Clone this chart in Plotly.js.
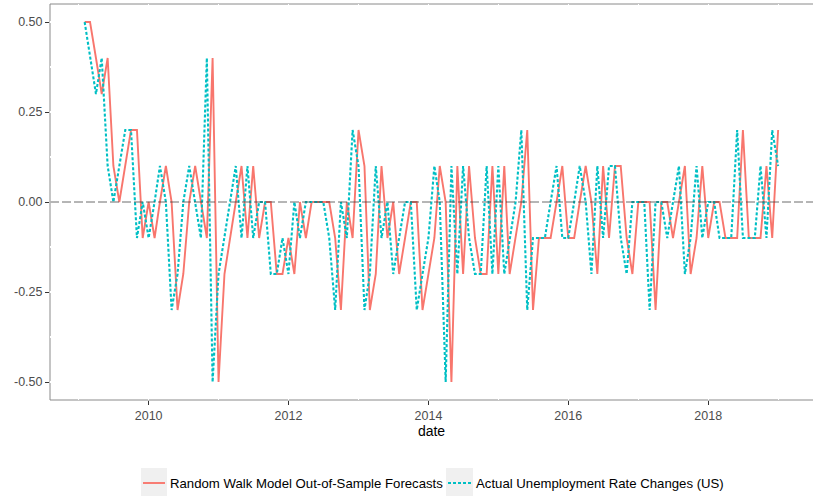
<!DOCTYPE html>
<html>
<head>
<meta charset="utf-8">
<script src="https://cdn.plot.ly/plotly-3.0.1.min.js"></script>
<style>
  html, body { margin: 0; padding: 0; background: #ffffff; }
  #chart { width: 813px; height: 496px; }
</style>
</head>
<body>
<div id="chart"></div>
<script>
// Monthly US unemployment rate changes (percentage points), Feb 2009 .. Jan 2019
const startMonth = "2009-02";

const actualChanges = [
   0.4,  0.3,  0.4,  0.1,  0.0,  0.1,  0.2,  0.2, -0.1,  0.0, -0.1,
   0.0,  0.1,  0.0, -0.3, -0.2,  0.0,  0.1,  0.0, -0.1,  0.4, -0.5,
  -0.2, -0.1,  0.0,  0.1, -0.1,  0.1, -0.1,  0.0,  0.0, -0.2, -0.2,
  -0.1, -0.2,  0.0, -0.1,  0.0,  0.0,  0.0,  0.0, -0.1, -0.3,  0.0,
  -0.1,  0.2,  0.1, -0.3, -0.2,  0.1, -0.1,  0.0, -0.2, -0.1,  0.0,
   0.0, -0.3, -0.2, -0.1,  0.1,  0.0, -0.5,  0.1, -0.2,  0.1, -0.1,
  -0.2, -0.2,  0.1, -0.2,  0.1, -0.2, -0.1,  0.0,  0.2, -0.3, -0.1,
  -0.1, -0.1,  0.0,  0.1, -0.1, -0.1,  0.0,  0.1,  0.0, -0.2,  0.1,
  -0.1,  0.1,  0.1, -0.1, -0.2,  0.0,  0.0,  0.0, -0.3,  0.0,  0.0,
  -0.1,  0.0,  0.1, -0.2, -0.1,  0.1, -0.1,  0.0,  0.0, -0.1, -0.1,
  -0.1,  0.2, -0.1, -0.1, -0.1,  0.1, -0.1,  0.2,  0.1
];
// first value of the actual series (Feb 2009)
const actualFirst = 0.5;

// Random walk forecast: each month's forecast equals last month's observed change
const randomWalkForecasts = [
   0.5,  0.5,  0.4,  0.3,  0.4,  0.1,  0.0,  0.1,  0.2,  0.2, -0.1,
   0.0, -0.1,  0.0,  0.1,  0.0, -0.3, -0.2,  0.0,  0.1,  0.0, -0.1,
   0.4, -0.5, -0.2, -0.1,  0.0,  0.1, -0.1,  0.1, -0.1,  0.0,  0.0,
  -0.2, -0.2, -0.1, -0.2,  0.0, -0.1,  0.0,  0.0,  0.0,  0.0, -0.1,
  -0.3,  0.0, -0.1,  0.2,  0.1, -0.3, -0.2,  0.1, -0.1,  0.0, -0.2,
  -0.1,  0.0,  0.0, -0.3, -0.2, -0.1,  0.1,  0.0, -0.5,  0.1, -0.2,
   0.1, -0.1, -0.2, -0.2,  0.1, -0.2,  0.1, -0.2, -0.1,  0.0,  0.2,
  -0.3, -0.1, -0.1, -0.1,  0.0,  0.1, -0.1, -0.1,  0.0,  0.1,  0.0,
  -0.2,  0.1, -0.1,  0.1,  0.1, -0.1, -0.2,  0.0,  0.0,  0.0, -0.3,
   0.0,  0.0, -0.1,  0.0,  0.1, -0.2, -0.1,  0.1, -0.1,  0.0,  0.0,
  -0.1, -0.1, -0.1,  0.2, -0.1, -0.1, -0.1,  0.1, -0.1,  0.2
];

const actualSeries = [actualFirst].concat(actualChanges);

const yTickVals = [-0.5, -0.25, 0, 0.25, 0.5];
const yTickText = ["-0.50", "-0.25", "0.00", "0.25", "0.50"];

const seriesNames = [
  "Random Walk Model Out-of-Sample Forecasts",
  "Actual Unemployment Rate Changes (US)"
];
const seriesColors = ["#F8766D", "#00BFC4"];

// month strings for the x axis
function monthSeq(start, n) {
  let [y, m] = start.split("-").map(Number);
  const out = [];
  for (let i = 0; i < n; i++) {
    out.push(y + "-" + String(m).padStart(2, "0") + "-01");
    m += 1;
    if (m > 12) { m = 1; y += 1; }
  }
  return out;
}
const dates = monthSeq(startMonth, randomWalkForecasts.length);

const W = 813, H = 496;
const M = { l: 50, r: 0, t: 4, b: 96 };
const px2x = px => (px - M.l) / (W - M.l - M.r);
const px2y = py => (H - M.b - py) / (H - M.t - M.b);

const redLine = { color: seriesColors[0], width: 1.9 };
const cyanLine = { color: seriesColors[1], width: 2.1, dash: "3px,2px" };

const traces = [
  {
    x: dates, y: randomWalkForecasts, type: "scatter", mode: "lines",
    name: seriesNames[0], line: redLine,
    showlegend: false, hoverinfo: "x+y"
  },
  {
    x: dates, y: actualSeries, type: "scatter", mode: "lines",
    name: seriesNames[1], line: cyanLine,
    showlegend: false, hoverinfo: "x+y"
  }
];

const font = "Liberation Sans, Arial, Helvetica, sans-serif";

// legend keys drawn by hand (grey key boxes with a line sample)
const keyBoxes = [
  { x0: 141, x1: 167, line: redLine, textX: 168, text: seriesNames[0] },
  { x0: 446, x1: 473, line: cyanLine, textX: 474, text: seriesNames[1] }
];
const legendTop = 468, legendBottom = 496, legendMid = 483;

const shapes = [
  // panel frame, drawn under the (white) grid lines
  { type: "rect", xref: "paper", yref: "paper", x0: 0, x1: 1.002, y0: 0, y1: 1,
    layer: "below", line: { color: "#8a8a8a", width: 1 }, fillcolor: "rgba(0,0,0,0)" },
  // zero reference line
  { type: "line", xref: "paper", yref: "y", x0: 0, x1: 1, y0: 0, y1: 0,
    layer: "above", line: { color: "rgba(60,60,60,0.75)", width: 1, dash: "9px,3px" } }
];
const annotations = [];
keyBoxes.forEach(k => {
  shapes.push({ type: "rect", xref: "paper", yref: "paper",
    x0: px2x(k.x0), x1: px2x(k.x1), y0: px2y(legendBottom), y1: px2y(legendTop),
    layer: "above", line: { width: 0 }, fillcolor: "#f0f0f0" });
  shapes.push({ type: "line", xref: "paper", yref: "paper",
    x0: px2x(k.x0 + 2), x1: px2x(k.x1 - 2), y0: px2y(legendMid), y1: px2y(legendMid),
    layer: "above", line: { color: k.line.color, width: k.line.width, dash: k.line.dash || "solid" } });
  annotations.push({ xref: "paper", yref: "paper", x: px2x(k.textX), y: px2y(legendMid),
    xanchor: "left", yanchor: "middle", showarrow: false, text: k.text,
    font: { family: font, size: 13.2, color: "#000000" } });
});

const layout = {
  width: W, height: H,
  margin: M,
  paper_bgcolor: "#ffffff", plot_bgcolor: "#ffffff",
  showlegend: false,
  font: { family: font, size: 12, color: "#4d4d4d" },
  xaxis: {
    type: "date",
    range: ["2008-08-04", "2019-07-02"],
    tick0: "2010-01-01", dtick: "M24", tickformat: "%Y",
    ticks: "outside", ticklen: 4, tickwidth: 1, tickcolor: "#333333",
    tickfont: { family: font, size: 12.5, color: "#4d4d4d" },
    showline: false, zeroline: false,
    showgrid: true, gridcolor: "#ffffff", gridwidth: 1.2,
    minor: { tick0: "2009-01-01", dtick: "M24", showgrid: true, gridcolor: "#ffffff", gridwidth: 1.2 },
    title: { text: "date", font: { family: font, size: 14, color: "#000000" }, standoff: 4 },
    fixedrange: true
  },
  yaxis: {
    range: [-0.55, 0.55],
    tickmode: "array", tickvals: yTickVals, ticktext: yTickText,
    ticks: "outside", ticklen: 4, tickwidth: 1, tickcolor: "#333333",
    tickfont: { family: font, size: 12.5, color: "#4d4d4d" },
    showline: false, zeroline: false,
    showgrid: true, gridcolor: "#ffffff", gridwidth: 1.2,
    minor: { tickmode: "array", tickvals: [-0.375, -0.125, 0.125, 0.375], showgrid: true, gridcolor: "#ffffff", gridwidth: 1.2 },
    fixedrange: true
  },
  shapes: shapes,
  annotations: annotations
};

Plotly.newPlot("chart", traces, layout, { displayModeBar: false, staticPlot: true });
</script>
</body>
</html>
